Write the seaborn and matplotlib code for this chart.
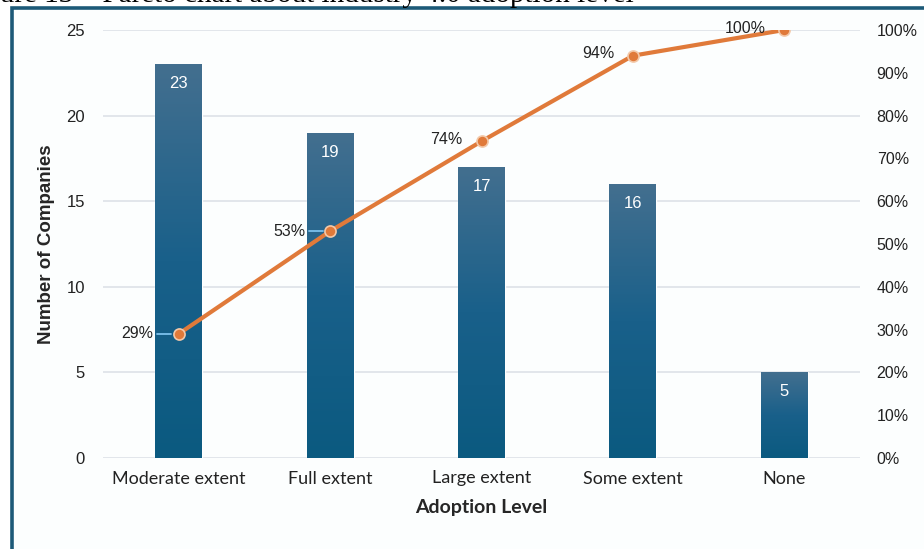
import numpy as np
import pandas as pd
import matplotlib.pyplot as plt
import seaborn as sns
from matplotlib.patches import Rectangle
from matplotlib.colors import LinearSegmentedColormap

# data
levels = ["Moderate extent", "Full extent", "Large extent", "Some extent", "None"]
companies = [23, 19, 17, 16, 5]
cum_pct = [29, 53, 74, 94, 100]
pct_labels = ["29%", "53%", "74%", "94%", "100%"]

df = pd.DataFrame({"Adoption Level": levels, "Companies": companies})

sns.set_theme(style="white")
plt.rcParams["font.family"] = ["Liberation Sans", "DejaVu Sans"]

fig = plt.figure(figsize=(9.24, 5.49), dpi=100)
ax = fig.add_axes([103 / 924, 1 - 458 / 549, 757 / 924, 428 / 549])

# frame around the chart, cut by the image edges
fig.patches.append(Rectangle((12 / 924, -0.05), 1.0, 1 - 8 / 549 + 0.05,
                             transform=fig.transFigure, facecolor="#fcfefe",
                             edgecolor="#1d5a78", lw=2.6, zorder=-5))
# caption cut off at the top
fig.text(-0.042, 1 - 2 / 549, "Figure 13 \u2013 Pareto chart about industry 4.0 adoption level",
         family="Liberation Serif", fontsize=21, va="baseline", ha="left", color="black")

ax.set_facecolor("none")
sns.barplot(data=df, x="Adoption Level", y="Companies", ax=ax, width=0.31,
            color="#0e5a80", saturation=1, zorder=2)

# vertical gradient inside bars
cmap = LinearSegmentedColormap.from_list("bar", ["#0b5a80", "#19608a", "#436f8f"])
grad = np.linspace(0, 1, 256).reshape(-1, 1)
for p in ax.patches:
    x0, y0 = p.get_x(), p.get_y()
    w, h = p.get_width(), p.get_height()
    im = ax.imshow(grad, cmap=cmap, aspect="auto", origin="lower",
                   extent=[x0, x0 + w, y0, y0 + h], zorder=3)
    im.set_clip_path(p)
    ax.text(x0 + w / 2, h - 0.7, str(int(h)), ha="center", va="top",
            color="white", fontsize=12, zorder=5)

ax.set_xlim(-0.5, 4.5)
ax.set_ylim(0, 25)
ax.set_yticks(range(0, 26, 5))
ax.yaxis.grid(True, color="#dde2e8", lw=1.2)
ax.set_axisbelow(True)
for s in ax.spines.values():
    s.set_visible(False)
ax.tick_params(axis="both", length=0, labelsize=12, colors="#222222")
ax.tick_params(axis="y", pad=13)
ax.tick_params(axis="x", pad=9)
for t in ax.get_xticklabels():
    t.set_family(["Lato", "DejaVu Sans"])
    t.set_fontsize(13)
ax.set_xlabel("Adoption Level", fontsize=14, fontweight="bold", labelpad=9,
              family=["Lato", "DejaVu Sans"])
ax.set_ylabel("Number of Companies", fontsize=13.5, fontweight="bold", labelpad=8)

# cumulative percentage on the right axis
ax2 = ax.twinx()
ax2.set_ylim(0, 100)
ax2.set_yticks(range(0, 101, 10))
ax2.set_yticklabels([f"{v}%" for v in range(0, 101, 10)])
for s in ax2.spines.values():
    s.set_visible(False)
ax2.tick_params(axis="y", length=0, labelsize=11.5, colors="#222222", pad=12)
sns.lineplot(x=list(range(len(levels))), y=cum_pct, ax=ax2, color="#e07a3a",
             lw=3, marker="o", markersize=8, markeredgecolor="#f3c9a9",
             markeredgewidth=1.2, zorder=6)

# labels of the cumulative points
label_dx = [-0.17, -0.165, -0.125, -0.12, -0.12]
for i, (lab, dx) in enumerate(zip(pct_labels, label_dx)):
    yy = cum_pct[i]
    if i < 2:
        ax2.plot([i + dx + 0.025, i - 0.05], [yy, yy], color="#7cc0ec", lw=1.3, zorder=5)
        ax2.text(i + dx, yy, lab, ha="right", va="center", fontsize=11.5, color="#222222")
    else:
        ax2.text(i + dx, yy + 0.4, lab, ha="right", va="center", fontsize=11.5,
                 color="#222222", zorder=7)

fig.savefig("out.png", dpi=100)
